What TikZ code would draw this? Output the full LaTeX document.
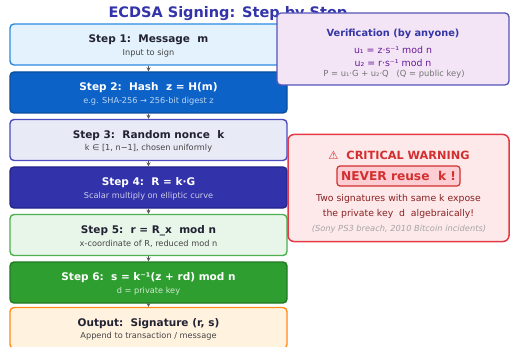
\documentclass[tikz,border=0pt]{standalone}
\usepackage{fontspec}
\setmainfont{DejaVu Sans}
\usetikzlibrary{arrows.meta}
\definecolor{sAf}{HTML}{E3F2FD}\definecolor{sAb}{HTML}{2A8AE0}
\definecolor{sBf}{HTML}{0D62C8}\definecolor{sBb}{HTML}{0A4E9E}
\definecolor{sCf}{HTML}{E8EAF6}\definecolor{sCb}{HTML}{4B4BC0}
\definecolor{sDf}{HTML}{3232AA}\definecolor{sDb}{HTML}{25258A}
\definecolor{sEf}{HTML}{E8F5E9}\definecolor{sEb}{HTML}{4CAF50}
\definecolor{sFf}{HTML}{2E9E30}\definecolor{sFb}{HTML}{1F7A22}
\definecolor{sGf}{HTML}{FFF3E0}\definecolor{sGb}{HTML}{FF8C1A}
\definecolor{darktxt}{HTML}{222233}\definecolor{subtxt}{HTML}{444444}
\definecolor{titlecol}{HTML}{3333AA}
\definecolor{verf}{HTML}{F3E5F5}\definecolor{verb}{HTML}{5656B8}
\definecolor{vertitle}{HTML}{3535A5}\definecolor{verline}{HTML}{6A1B9A}
\definecolor{warnf}{HTML}{FDE8EA}\definecolor{warnb}{HTML}{E53945}
\definecolor{warntitle}{HTML}{D32F2F}\definecolor{warninner}{HTML}{FCCDD2}
\definecolor{warnbody}{HTML}{8B2020}
\begin{document}
\begin{tikzpicture}[x=1pt,y=-1pt,
  stepbox/.style={rounded corners=4pt,line width=1.4pt,minimum width=277pt,minimum height=41pt,inner sep=0pt},
  steptitle/.style={font=\fontsize{10.5}{12}\selectfont\bfseries},
  stepsub/.style={font=\fontsize{8.2}{10}\selectfont},
  flowarrow/.style={draw=black!65,line width=1pt,-{Stealth[length=4pt,width=4pt]}}]
\useasboundingbox (0,0) rectangle (510,347);
% steps
\foreach \n/\y/\f/\b in {A/44.5/sAf/sAb,B/92.5/sBf/sBb,C/140/sCf/sCb,D/187.5/sDf/sDb,E/235/sEf/sEb,F/282.5/sFf/sFb,G/328/sGf/sGb}{
  \node[stepbox,fill=\f,draw=\b] (box\n) at (148.5,\y) {};
}
\node[steptitle,text=darktxt] (tA) at (148.5,40) {Step 1:\ \ Message\ \ m};
\node[stepsub,text=subtxt] (uA) at (148.5,53) {Input to sign};
\node[steptitle,text=white] (tB) at (148.5,88) {Step 2:\ \ Hash\ \ z = H(m)};
\node[stepsub,text=sAf!80!sBf] (uB) at (148.5,101) {e.g. SHA-256 → 256-bit digest z};
\node[steptitle,text=darktxt] (tC) at (148.5,135.5) {Step 3:\ \ Random nonce\ \ k};
\node[stepsub,text=subtxt] (uC) at (148.5,148.5) {k ∈ [1, n−1], chosen uniformly};
\node[steptitle,text=white] (tD) at (148.5,183) {Step 4:\ \ R = k·G};
\node[stepsub,text=white!75!sDf] (uD) at (148.5,196) {Scalar multiply on elliptic curve};
\node[steptitle,text=darktxt] (tE) at (148.5,230.5) {Step 5:\ \ r = R\_x\ \ mod n};
\node[stepsub,text=subtxt] (uE) at (148.5,243.5) {x-coordinate of R, reduced mod n};
\node[steptitle,text=white] (tF) at (148.5,278) {Step 6:\ \ s = k⁻¹(z + rd) mod n};
\node[stepsub,text=white!78!sFf] (uF) at (148.5,291) {d = private key};
\node[steptitle,text=darktxt] (tG) at (148.5,323.5) {Output:\ \ Signature (r, s)};
\node[stepsub,text=subtxt] (uG) at (148.5,336.5) {Append to transaction / message};
% arrows
\foreach \a/\b in {A/B,B/C,C/D,D/E,E/F,F/G}{
  \draw[flowarrow] (box\a.south) -- (box\b.north);
}
% title
\node[anchor=west,text=titlecol,font=\fontsize{14.5}{16}\selectfont\bfseries] (title) at (105,14) {ECDSA Signing: Step by Step};
% verification
\node[rounded corners=4pt,line width=1.3pt,fill=verf,draw=verb,minimum width=232pt,minimum height=72pt,inner sep=0pt] (ver) at (393,49) {};
\node[text=vertitle,font=\fontsize{9.8}{11}\selectfont\bfseries] (verT) at (393,34) {Verification (by anyone)};
\node[text=verline,font=\fontsize{9.4}{11}\selectfont] (verA) at (393,50) {u₁ = z·s⁻¹ mod n};
\node[text=verline,font=\fontsize{9.4}{11}\selectfont] (verB) at (393,63) {u₂ = r·s⁻¹ mod n};
\node[text=black!55,font=\fontsize{8.35}{10}\selectfont] (verC) at (394,74) {P = u₁·G + u₂·Q\ \ \ (Q = public key)};
% warning
\node[rounded corners=6pt,line width=1.5pt,fill=warnf,draw=warnb,minimum width=221pt,minimum height=107pt,inner sep=0pt] (warn) at (398.5,188) {};
\node[text=warntitle,font=\fontsize{11.3}{13}\selectfont\bfseries] (warnT) at (399,155) {⚠\ \ CRITICAL WARNING};
\node[rounded corners=3pt,line width=1.2pt,fill=warninner,draw=warntitle,text=warntitle,font=\fontsize{12.2}{14}\selectfont\bfseries,minimum width=123pt,minimum height=20pt,inner sep=0pt] (never) at (398.5,176) {NEVER reuse\ \ k !};
\node[text=warnbody,font=\fontsize{9.3}{11}\selectfont] (warnA) at (398.5,198.5) {Two signatures with same k expose};
\node[text=warnbody,font=\fontsize{9.3}{11}\selectfont] (warnB) at (398.5,214) {the private key\ \ d\ \ algebraically!};
\node[text=black!35,font=\fontsize{8.3}{10}\selectfont\itshape] (warnC) at (399,229) {(Sony PS3 breach, 2010 Bitcoin incidents)};
\end{tikzpicture}
\end{document}
